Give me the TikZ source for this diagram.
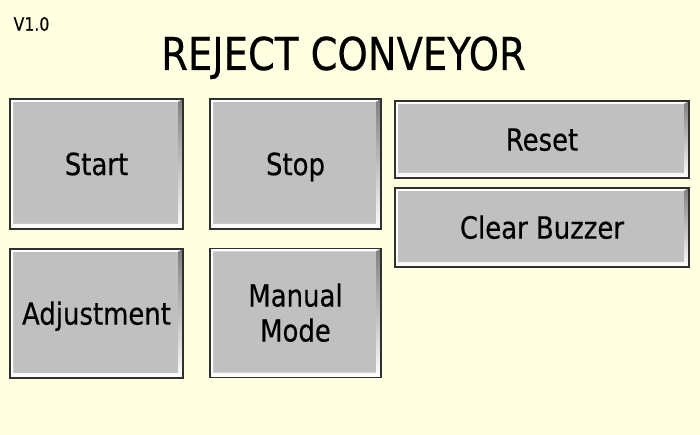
\documentclass[tikz,border=0pt]{standalone}
\usepackage{fontspec}
\setmainfont{DejaVu Sans}[FakeStretch=0.85,FakeBold=0.4]
\begin{document}
\definecolor{bg}{HTML}{FFFFE1}
\definecolor{face}{HTML}{C0C0C0}
\definecolor{shade}{HTML}{808080}
\definecolor{rim}{HTML}{303030}
\begin{tikzpicture}[x=1pt,y=-1pt,
  btn/.style={draw=rim, line width=1.2pt, fill=face, inner sep=0pt,
    font=\fontsize{30.5}{35}\selectfont, text height=22.2pt, text depth=0pt,
    path picture={
      \fill[white] (path picture bounding box.north west) -- (path picture bounding box.north east)
        -- ([xshift=-5pt,yshift=-3pt]path picture bounding box.north east)
        -- ([xshift=3pt,yshift=-3pt]path picture bounding box.north west)
        -- ([xshift=3pt,yshift=5pt]path picture bounding box.south west)
        -- (path picture bounding box.south west) -- cycle;
      \fill[shade] (path picture bounding box.south east) -- (path picture bounding box.north east)
        -- ([xshift=-5pt,yshift=-3pt]path picture bounding box.north east)
        -- ([xshift=-5pt,yshift=5pt]path picture bounding box.south east)
        -- ([xshift=3pt,yshift=5pt]path picture bounding box.south west)
        -- (path picture bounding box.south west) -- cycle;
    }},
  ttl/.style={inner sep=0pt, text depth=0pt}]
\fill[bg] (0,0) rectangle (700,435);
\useasboundingbox (0,0) rectangle (700,435);
\node[ttl, text height=13.5pt, font=\fontsize{18.5}{20}\selectfont] (ver) at (31.5,24) {V1.0};
\node[ttl, text height=33pt, font=\fontsize{45.3}{50}\selectfont] (title) at (343.5,53.5) {REJECT CONVEYOR};
\node[btn, minimum width=173pt, minimum height=130pt] (start) at (96.5,164) {Start};
\node[btn, minimum width=171pt, minimum height=130pt] (stop) at (295.5,164) {Stop};
\node[btn, minimum width=173pt, minimum height=129pt] (adj) at (96.5,313.5) {Adjustment};
\node[btn, minimum width=171pt, minimum height=129pt, text height=57pt] (manual) at (295.5,313)
  {\vbox{\baselineskip=35pt\halign{\hfil#\hfil\cr Manual\cr Mode\cr}}};
\node[btn, minimum width=294pt, minimum height=77pt] (reset) at (542,139.5) {Reset};
\node[btn, minimum width=294pt, minimum height=79pt] (clear) at (542,227.5) {Clear Buzzer};
\end{tikzpicture}
\end{document}
